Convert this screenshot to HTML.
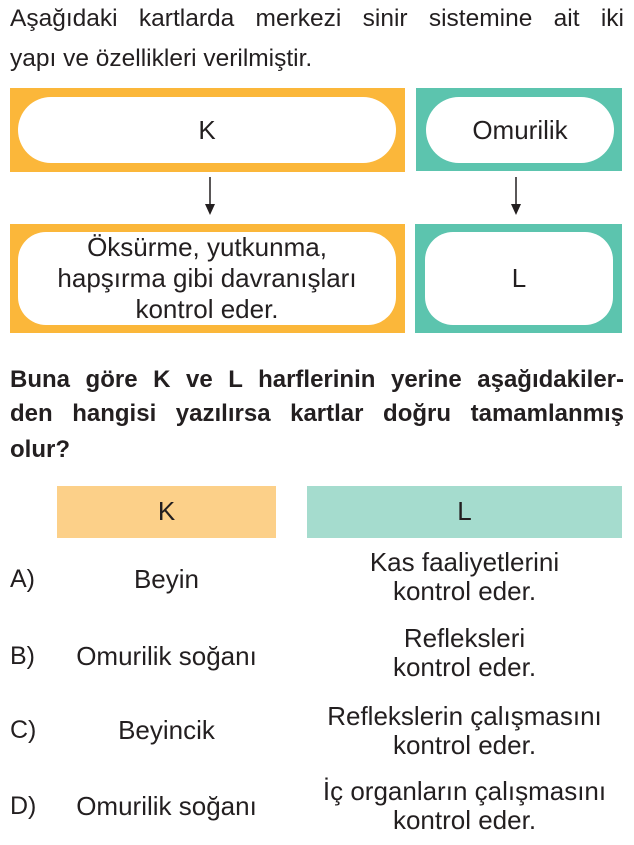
<!DOCTYPE html>
<html><head><meta charset="utf-8"><style>
body{margin:0;width:634px;height:845px;background:#fff;font-family:"Liberation Sans",sans-serif;color:#231f20;position:relative;overflow:hidden}
.a{position:absolute;white-space:nowrap}
.box{position:absolute}
.w{position:absolute;background:#fff;display:flex;align-items:center;justify-content:center;text-align:center;font-size:26px;line-height:31px}
.c{position:absolute;text-align:center;font-size:26px;line-height:29px;white-space:nowrap}
</style></head><body>
<div class="a" style="left:10px;top:5px;font-size:24.5px;width:614px;text-align:justify;text-align-last:justify;">Aşağıdaki kartlarda merkezi sinir sistemine ait iki</div>
<div class="a" style="left:10px;top:45px;font-size:24.5px">yapı ve özellikleri verilmiştir.</div>

<div class="box" style="left:10px;top:88px;width:395px;height:84px;background:#fbb73a"></div>
<div class="w" style="left:18px;top:97px;width:378px;height:66px;border-radius:33px">K</div>
<div class="box" style="left:416px;top:88px;width:206px;height:83px;background:#5cc4ae"></div>
<div class="w" style="left:426px;top:97px;width:188px;height:66px;border-radius:33px">Omurilik</div>

<svg style="position:absolute;left:0;top:0" width="634" height="845">
<line x1="210" y1="177" x2="210" y2="208" stroke="#231f20" stroke-width="1.5"/>
<polygon points="205,204 215,204 210,215" fill="#231f20"/>
<line x1="516" y1="177" x2="516" y2="208" stroke="#231f20" stroke-width="1.5"/>
<polygon points="511,204 521,204 516,215" fill="#231f20"/>
</svg>

<div class="box" style="left:10px;top:224px;width:395px;height:109px;background:#fbb73a"></div>
<div class="w" style="left:18px;top:232px;width:378px;height:93px;border-radius:28px">Öksürme, yutkunma,<br>hapşırma gibi davranışları<br>kontrol eder.</div>
<div class="box" style="left:415px;top:224px;width:207px;height:109px;background:#5cc4ae"></div>
<div class="w" style="left:425px;top:232px;width:188px;height:93px;border-radius:28px">L</div>

<div class="a" style="left:10px;top:366px;font-size:24px;font-weight:bold;width:614px;text-align:justify;text-align-last:justify">Buna göre K ve L harflerinin yerine aşağıdakiler-</div>
<div class="a" style="left:10px;top:400px;font-size:24px;font-weight:bold;width:614px;text-align:justify;text-align-last:justify">den hangisi yazılırsa kartlar doğru tamamlanmış</div>
<div class="a" style="left:10px;top:436px;font-size:24px;font-weight:bold">olur?</div>

<div class="box" style="left:57px;top:486px;width:219px;height:52px;background:#fcd089"></div>
<div class="c" style="left:57px;top:497px;width:219px">K</div>
<div class="box" style="left:307px;top:486px;width:315px;height:52px;background:#a5dcce"></div>
<div class="c" style="left:307px;top:497px;width:315px">L</div>

<div class="a" style="left:10px;top:565px;font-size:25px">A)</div>
<div class="c" style="left:57px;top:565px;width:219px">Beyin</div>
<div class="c" style="left:307px;top:548px;width:315px">Kas faaliyetlerini<br>kontrol eder.</div>

<div class="a" style="left:10px;top:642px;font-size:25px">B)</div>
<div class="c" style="left:57px;top:642px;width:219px">Omurilik soğanı</div>
<div class="c" style="left:307px;top:624px;width:315px">Refleksleri<br>kontrol eder.</div>

<div class="a" style="left:10px;top:716px;font-size:25px">C)</div>
<div class="c" style="left:57px;top:716px;width:219px">Beyincik</div>
<div class="c" style="left:307px;top:702px;width:315px">Reflekslerin çalışmasını<br>kontrol eder.</div>

<div class="a" style="left:10px;top:792px;font-size:25px">D)</div>
<div class="c" style="left:57px;top:792px;width:219px">Omurilik soğanı</div>
<div class="c" style="left:307px;top:777px;width:315px">İç organların çalışmasını<br>kontrol eder.</div>
</body></html>
